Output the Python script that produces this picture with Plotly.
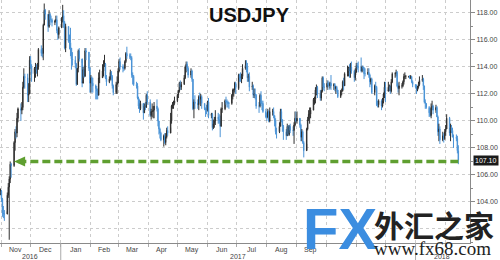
import pandas as pd
import plotly.graph_objects as go

# ---------------- data (USDJPY daily) ----------------
first_open = 104.7
closes = [
    104.8,
    104.2, 103.2, 103.1, 103.1, 104.5, 105.1, 105.7, 106.8, 106.7, 108.4, 109.2, 109.1, 110.2, 110.9, 110.8, 111.0, 112.5, 113.3, 113.2, 111.9, 112.0, 114.5,
    114.0, 113.5, 113.9, 113.9, 113.8, 114.0, 115.3, 115.0, 115.0, 117.1, 118.2, 117.9, 117.0, 117.9, 117.5, 117.5, 117.3, 117.4, 117.5, 116.7, 116.4, 116.9,
    117.6, 117.8, 117.3, 115.4, 117.0, 115.9, 115.8, 115.4, 114.6, 114.5, 114.2, 112.7, 113.9, 115.2, 114.6, 112.8, 113.8, 113.3, 115.2, 115.1, 113.9, 112.8,
    113.2, 112.8, 112.6, 112.4, 112.2, 111.9, 113.2, 113.2, 113.7, 114.2, 114.2, 113.2, 112.9, 113.1, 113.6, 113.3, 112.6, 112.1, 112.7, 112.8,
    113.7, 114.4, 114.0, 113.9, 113.9, 114.4, 115.0, 114.8, 114.8, 114.7, 113.4, 113.3, 112.7, 112.6, 111.7, 111.1, 110.9, 111.3, 110.6, 111.1, 111.0, 111.9, 111.4,
    110.4, 110.7, 110.7, 110.8, 111.1, 110.9, 110.0, 109.4, 109.1, 108.6, 108.9, 108.4, 108.8, 109.3, 109.1, 110.0, 111.1, 111.1, 111.3, 111.5,
    111.9, 112.2, 112.8, 112.5, 112.7, 113.2, 114.0, 114.2, 113.9, 113.4, 113.7, 113.1, 110.9, 111.4, 111.3, 111.2, 111.8, 111.6, 111.8, 111.3, 110.9, 110.8, 110.8,
    111.4, 110.4, 110.5, 109.5, 109.8, 110.0, 110.3, 110.1, 110.0, 109.6, 110.9, 110.9, 111.5, 111.4, 111.4, 111.3, 111.3, 111.9, 112.3, 112.3, 112.8, 112.4,
    113.4, 113.2, 113.2, 113.3, 113.9, 114.1, 114.0, 113.2, 113.3, 112.5, 112.6, 111.9, 112.0, 111.9, 111.1, 111.1, 111.9, 111.3, 111.3, 110.7, 110.3,
    110.3, 110.7, 110.0, 110.7, 110.7, 110.4, 110.0, 109.2, 109.2, 109.6, 110.7, 110.1, 109.6, 109.2, 108.9, 109.6, 109.0, 109.6, 109.3, 109.3, 109.7, 110.2, 110.0,
    110.2, 109.7, 108.8, 109.2, 108.4, 107.8, 109.4, 110.1, 110.5, 110.5, 110.8, 111.6, 111.6, 112.3, 112.5, 112.0, 111.7, 112.2, 113.2, 112.5, 112.5,
    112.8, 112.7, 112.6, 112.8, 112.6, 112.7, 112.4, 112.5, 112.3, 111.8, 112.2, 112.2, 112.9, 112.6, 113.5, 113.5, 113.9, 113.7, 114.0, 113.7, 113.2, 113.6,
    114.1, 114.0, 114.0, 113.7, 114.0, 113.9, 113.5, 113.5, 113.6, 113.4, 112.9, 113.1, 112.1, 112.6, 112.5, 111.2, 111.2, 111.5, 111.1, 111.5, 112.0, 112.5,
    112.2, 112.5, 112.6, 112.2, 112.9, 113.5, 113.5, 113.6, 112.6, 112.4, 112.6, 112.6, 112.9, 113.3, 113.3, 113.3, 113.3, 113.2, 113.3, 112.9, 112.7,
    112.5, 112.3, 112.5, 112.7, 113.0, 113.1, 112.6, 111.4, 111.3, 111.0, 110.6, 110.4, 111.0, 111.1, 110.8, 111.0, 110.3, 109.2, 109.4, 108.6, 108.9, 108.7, 109.2,
    109.4, 110.2, 109.1, 109.5, 109.3, 108.8, 108.8, 108.7, 107.8, 107.1,
]
highs = [
    105.0,
    104.9, 104.3, 103.7, 103.4, 104.7, 105.4, 105.9, 107.0, 106.9, 108.5, 109.4, 109.6, 110.6, 111.0, 111.3, 111.4, 112.9, 113.9, 113.5, 113.5, 112.8, 114.8,
    114.8, 114.2, 114.0, 114.3, 114.2, 114.3, 115.4, 115.6, 115.4, 117.2, 118.7, 118.3, 117.9, 118.2, 118.0, 117.8, 117.6, 117.5, 117.8, 117.8, 116.8, 117.0,
    117.7, 118.6, 118.2, 117.4, 117.2, 117.0, 116.4, 116.9, 115.4, 115.1, 114.8, 114.3, 113.9, 115.3, 115.4, 114.3, 114.0, 114.1, 115.4, 115.4, 115.1, 114.0,
    113.4, 113.3, 113.2, 112.7, 112.6, 112.4, 113.6, 113.8, 114.2, 114.5, 114.9, 114.3, 113.4, 113.3, 113.8, 113.7, 113.4, 112.7, 112.9, 113.3,
    113.9, 114.6, 114.7, 114.2, 114.1, 114.5, 115.1, 115.5, 115.0, 115.0, 114.8, 113.6, 113.4, 112.9, 112.8, 111.8, 111.6, 111.5, 111.0, 111.3, 111.4, 112.0, 112.2,
    111.6, 110.9, 111.3, 111.1, 111.4, 111.6, 111.0, 110.0, 109.5, 109.2, 109.0, 109.1, 109.1, 109.5, 109.6, 110.6, 111.2, 111.4, 111.5, 111.8,
    112.0, 112.3, 112.9, 113.0, 112.9, 113.4, 114.1, 114.4, 114.4, 114.0, 113.9, 113.8, 113.1, 111.6, 111.9, 111.6, 111.9, 112.1, 112.0, 111.9, 111.3, 111.0, 111.2,
    111.5, 111.7, 110.6, 110.6, 110.1, 110.3, 110.8, 110.6, 110.5, 110.4, 111.0, 111.4, 111.6, 111.8, 111.6, 111.5, 111.4, 112.0, 112.4, 112.4, 112.9, 112.9,
    113.5, 113.5, 113.6, 113.5, 114.2, 114.5, 114.5, 114.3, 113.5, 113.6, 112.9, 112.7, 112.4, 112.4, 112.0, 111.4, 112.0, 112.2, 111.5, 111.5, 110.9,
    110.6, 110.9, 110.8, 111.0, 110.9, 111.0, 110.4, 110.2, 109.5, 109.9, 110.9, 110.9, 110.1, 109.7, 109.4, 109.8, 109.7, 109.7, 109.8, 109.6, 109.9, 110.7, 110.7,
    110.7, 110.0, 109.8, 109.4, 109.3, 108.5, 109.5, 110.3, 110.8, 111.0, 111.0, 111.7, 111.8, 112.5, 112.7, 112.6, 112.3, 112.3, 113.3, 113.3, 112.8,
    113.0, 113.0, 112.9, 112.9, 113.4, 112.8, 112.8, 112.6, 112.6, 112.3, 112.3, 112.4, 113.0, 113.2, 113.6, 114.1, 114.0, 114.2, 114.3, 114.4, 113.8, 113.9,
    114.3, 114.3, 114.4, 114.7, 114.1, 114.1, 114.0, 113.9, 113.9, 113.9, 113.5, 113.2, 113.2, 112.7, 112.9, 112.6, 111.5, 111.6, 111.6, 111.7, 112.1, 112.9,
    112.9, 112.9, 112.7, 112.6, 113.1, 113.6, 113.6, 113.8, 113.7, 112.8, 112.9, 112.8, 113.0, 113.5, 113.6, 113.4, 113.3, 113.4, 113.4, 113.3, 113.0,
    112.7, 112.7, 112.6, 112.9, 113.3, 113.4, 113.2, 112.6, 111.6, 111.3, 111.1, 110.9, 111.3, 111.5, 111.2, 111.2, 111.1, 110.4, 109.8, 109.6, 109.2, 109.1, 109.4,
    109.7, 110.5, 110.3, 109.8, 109.7, 109.5, 109.0, 109.0, 108.9, 108.2,
]
lows = [
    104.5,
    104.0, 102.9, 102.8, 102.6, 103.3, 104.3, 101.2, 105.4, 105.8, 106.6, 107.8, 108.7, 108.8, 109.9, 110.0, 110.5, 110.8, 112.4, 112.4, 111.4, 111.4, 112.0,
    113.9, 112.9, 112.9, 113.2, 113.5, 113.3, 113.8, 114.8, 114.7, 114.5, 117.1, 117.5, 116.6, 116.9, 117.1, 117.3, 117.0, 117.1, 117.3, 116.5, 116.0, 116.1,
    116.9, 117.3, 116.9, 115.3, 115.1, 115.8, 115.3, 114.8, 113.8, 114.1, 113.9, 112.6, 112.7, 113.6, 114.4, 112.5, 112.9, 113.2, 113.3, 114.5, 113.7, 112.1,
    112.1, 112.1, 112.1, 111.6, 111.6, 111.6, 111.9, 112.8, 113.3, 113.3, 114.0, 113.1, 112.6, 112.8, 113.0, 113.0, 112.4, 111.9, 112.0, 112.0,
    112.9, 113.6, 113.8, 113.6, 113.7, 113.8, 114.3, 114.6, 114.6, 114.5, 113.2, 112.7, 112.6, 112.4, 111.6, 110.9, 110.6, 110.8, 110.1, 110.6, 110.8, 111.0, 111.2,
    110.3, 110.1, 110.3, 110.2, 110.2, 110.7, 109.6, 109.0, 108.7, 108.5, 108.1, 108.3, 108.2, 108.7, 108.9, 109.5, 109.8, 110.9, 110.9, 111.2,
    111.4, 111.7, 112.1, 112.3, 112.3, 112.7, 113.1, 113.6, 113.7, 113.2, 113.2, 112.9, 110.8, 110.2, 110.9, 110.9, 110.8, 111.3, 111.1, 110.9, 110.8, 110.3, 110.5,
    110.7, 110.2, 110.2, 109.3, 109.4, 109.5, 109.7, 109.8, 109.8, 108.8, 109.6, 110.6, 110.8, 111.2, 111.0, 111.0, 110.9, 111.2, 111.6, 111.8, 112.1, 112.0,
    112.3, 112.9, 112.9, 112.8, 113.1, 113.8, 113.6, 112.9, 112.9, 112.2, 112.3, 111.7, 111.7, 111.6, 110.9, 110.6, 111.0, 111.1, 110.8, 110.6, 110.2,
    110.0, 110.2, 109.9, 109.9, 110.4, 110.2, 109.6, 109.0, 108.7, 109.1, 109.6, 109.9, 109.2, 108.6, 108.6, 108.9, 108.9, 108.9, 109.1, 108.9, 108.3, 109.6, 109.9,
    109.8, 109.5, 108.5, 108.5, 108.3, 107.3, 108.3, 109.3, 110.0, 109.8, 110.2, 110.8, 111.2, 111.3, 111.9, 111.7, 111.5, 111.5, 112.1, 112.3, 112.2,
    112.3, 112.5, 112.3, 112.4, 112.3, 112.3, 112.2, 112.0, 112.1, 111.7, 111.7, 111.9, 112.2, 112.3, 112.6, 113.3, 113.3, 113.2, 113.2, 113.5, 112.9, 113.0,
    113.6, 113.8, 113.6, 113.6, 113.6, 113.7, 113.1, 113.3, 113.4, 113.2, 112.5, 112.7, 112.0, 111.9, 112.3, 111.1, 111.0, 111.0, 110.8, 111.0, 111.3, 111.7,
    111.4, 112.3, 112.2, 112.0, 112.1, 112.8, 113.2, 113.3, 112.5, 112.1, 111.9, 112.4, 112.5, 112.7, 113.1, 113.1, 113.2, 113.1, 113.1, 112.8, 112.5,
    112.4, 112.0, 112.2, 112.4, 112.6, 112.9, 112.3, 111.3, 110.9, 110.9, 110.3, 110.3, 110.2, 110.8, 110.5, 110.6, 110.3, 108.9, 108.5, 108.3, 108.5, 108.4, 108.6,
    108.9, 109.4, 108.9, 108.5, 109.1, 108.8, 108.0, 108.5, 107.6, 106.8,
]
start_date = "2016-10-31"

y_ticks = [102, 104, 106, 108, 110, 112, 114, 116, 118]
month_labels = ["Nov", "Dec", "Jan", "Feb", "Mar", "Apr", "May", "Jun", "Jul", "Aug", "Sep"]
month_label_dates = ["2016-11-15", "2016-12-16", "2017-01-16", "2017-02-14", "2017-03-16",
                     "2017-04-15", "2017-05-16", "2017-06-15", "2017-07-16", "2017-08-16", "2017-09-15"]
year_labels = ["2016", "2017", "2018"]
year_label_dates = ["2016-11-30", "2017-07-02", "2018-01-28"]
year_breaks = ["2017-01-01", "2018-01-01"]

support_level = 107.0
last_price = 107.10
arrow_to = "2016-11-14"

# ---------------- figure ----------------
dates = pd.bdate_range(start_date, periods=len(closes))
opens = [first_open] + closes[:-1]

inc_col = "#2f2f2f"
dec_col = "#4a93d6"
green = "#5f9f30"
grid_col = "#cccccc"
axis_col = "#8a8a8a"
txt_col = "#444444"
base_font = "Liberation Sans, Arial, sans-serif"

fig = go.Figure()
fig.add_trace(go.Candlestick(
    x=dates, open=opens, high=highs, low=lows, close=closes,
    increasing=dict(line=dict(color=inc_col, width=1), fillcolor=inc_col),
    decreasing=dict(line=dict(color=dec_col, width=1), fillcolor=dec_col),
    whiskerwidth=0, showlegend=False, hoverinfo="skip",
))

fig.update_layout(
    width=500, height=260,
    margin=dict(l=0, r=30, t=0, b=17),
    paper_bgcolor="white", plot_bgcolor="white",
    font=dict(family=base_font, size=7, color=txt_col),
    showlegend=False,
    xaxis=dict(
        type="date", range=["2016-10-30 12:00", "2018-02-26"],
        rangeslider=dict(visible=False),
        dtick="M1", tick0="2016-11-01", tickmode="linear",
        showticklabels=False, ticks="outside", ticklen=3, tickcolor="#aaaaaa",
        showgrid=True, gridcolor=grid_col, griddash="dot", gridwidth=1,
        showline=True, linecolor=axis_col, linewidth=1, zeroline=False,
    ),
    yaxis=dict(
        side="right", range=[100.96, 118.96],
        tickmode="array", tickvals=y_ticks,
        ticktext=["" if v == 102 else f"{v:.2f}" for v in y_ticks],
        ticks="outside", ticklen=4, tickcolor=axis_col,
        tickfont=dict(size=7, color=txt_col),
        showgrid=True, gridcolor=grid_col, griddash="dot", gridwidth=1,
        showline=True, linecolor=axis_col, linewidth=1, zeroline=False,
        minor=dict(dtick=1, tick0=0, ticks="outside", ticklen=2, tickcolor=axis_col, showgrid=False),
    ),
)

# support arrow
fig.add_shape(type="line", xref="x", yref="y",
              x0=dates[-1], x1=arrow_to, y0=support_level, y1=support_level,
              line=dict(color=green, width=3.5, dash="8px,4px"))
fig.add_shape(type="path", xref="x", yref="y", xsizemode="pixel", ysizemode="pixel",
              xanchor=arrow_to, yanchor=support_level,
              path="M0,0 L11,5 L11,-5 Z", fillcolor=green, line=dict(width=0))

# year separators
for d in year_breaks:
    fig.add_shape(type="line", xref="x", yref="paper", x0=d, x1=d, y0=0, y1=-0.07,
                  line=dict(color="#aaaaaa", width=1))

annotations = []
for lab, d in zip(month_labels, month_label_dates):
    annotations.append(dict(x=d, y=0, xref="x", yref="paper", text=lab, showarrow=False,
                            xanchor="center", yanchor="top", yshift=-1,
                            font=dict(size=7, color=txt_col, family=base_font)))
for lab, d in zip(year_labels, year_label_dates):
    annotations.append(dict(x=d, y=0, xref="x", yref="paper", text=lab, showarrow=False,
                            xanchor="center", yanchor="top", yshift=-8,
                            font=dict(size=7, color=txt_col, family=base_font)))

# title
annotations.append(dict(x=0.53, y=1, xref="paper", yref="paper", text="<b>USDJPY</b>",
                        showarrow=False, xanchor="center", yanchor="middle", yshift=-15,
                        font=dict(size=20, color="#111111", family=base_font)))
# last price label
annotations.append(dict(x=1, y=last_price, xref="paper", yref="y", text=f"{last_price:.2f}",
                        showarrow=False, xanchor="left", yanchor="middle", xshift=3,
                        bgcolor="#1a1a1a", borderpad=1,
                        font=dict(size=7, color="white", family=base_font)))
# watermark
annotations.append(dict(x=0.7234, y=0, xref="paper", yref="paper", text="<b>FX</b>",
                        showarrow=False, xanchor="center", yanchor="middle", yshift=15,
                        font=dict(size=58, color="#3b8de0",
                                  family="Liberation Sans Narrow, Arial Narrow, Liberation Sans, sans-serif")))
annotations.append(dict(x=0.9234, y=0, xref="paper", yref="paper", text="<b>外汇之家</b>",
                        showarrow=False, xanchor="center", yanchor="middle", yshift=19,
                        font=dict(size=30, color="#222222", family="Noto Sans CJK SC")))
annotations.append(dict(x=0.921, y=0, xref="paper", yref="paper", text="www.fx68.com",
                        showarrow=False, xanchor="center", yanchor="middle", yshift=-5,
                        font=dict(size=19, color="#222222", family="Liberation Serif, serif")))
fig.update_layout(annotations=annotations)

fig.write_html("out.html")
